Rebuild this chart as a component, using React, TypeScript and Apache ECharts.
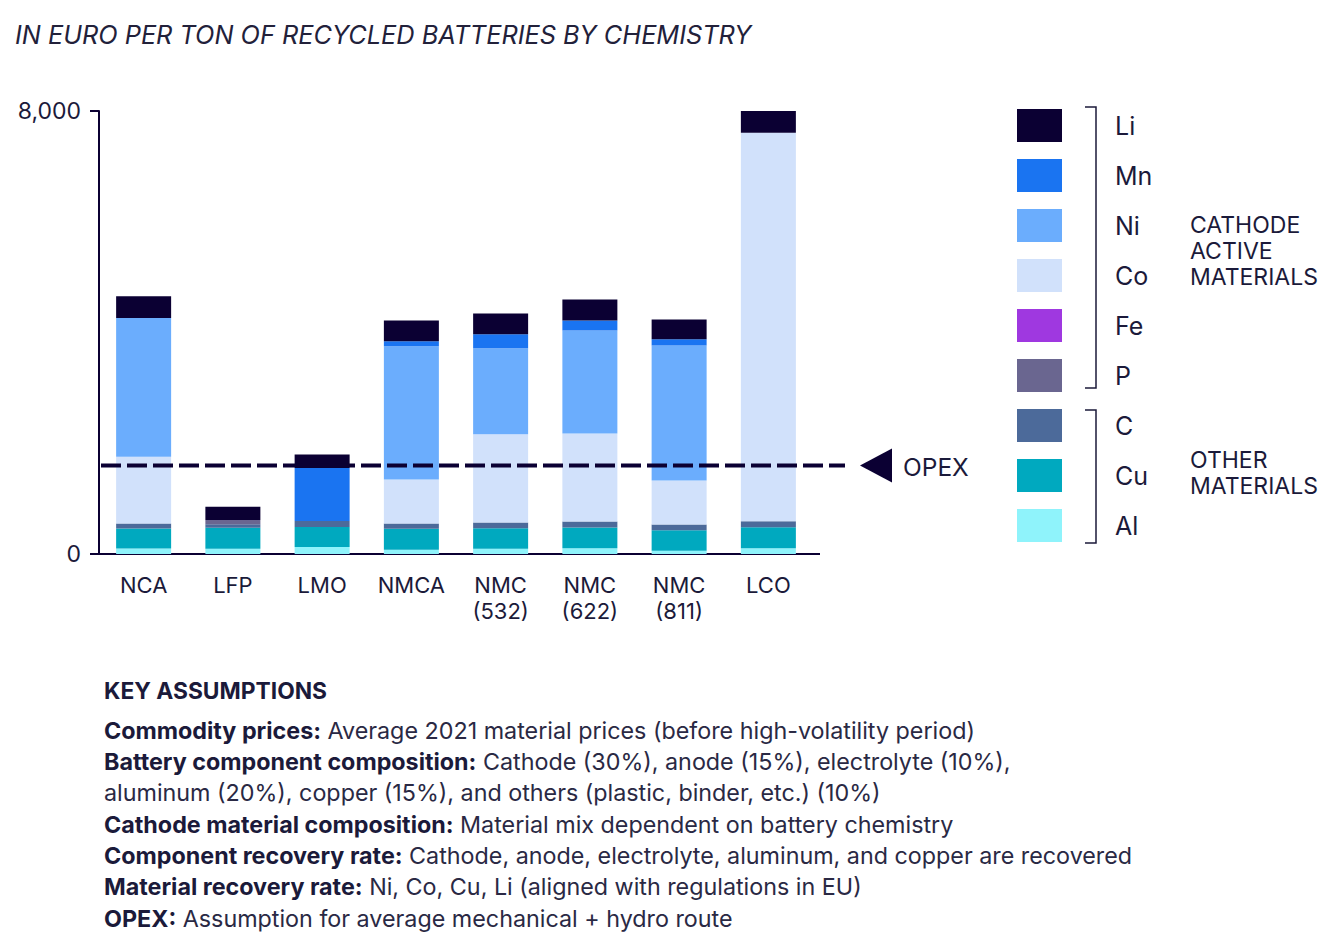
import React, { useEffect, useRef } from "react";
import * as echarts from "echarts";

const categories = ["NCA", "LFP", "LMO", "NMCA", "NMC\n(532)", "NMC\n(622)", "NMC\n(811)", "LCO"];
const alValues = [100, 96, 126, 76, 94, 105, 58, 105];
const cuValues = [361, 379, 361, 379, 372, 374, 372, 379];
const cValues = [90, 60, 108, 96, 103, 108, 103, 108];
const pValues = [0, 80, 0, 0, 0, 0, 0, 0];
const feValues = [0, 0, 0, 0, 0, 0, 0, 0];
const coValues = [1203, 0, 0, 795, 1595, 1589, 795, 7015];
const niValues = [2510, 0, 0, 2407, 1553, 1860, 2438, 0];
const mnValues = [0, 0, 957, 90, 253, 181, 114, 0];
const liValues = [392, 240, 247, 374, 374, 379, 356, 392];
const opexValue = 1600;
const yTicks = [0, 8000];

const legendOrder = ["Li", "Mn", "Ni", "Co", "Fe", "P", "C", "Cu", "Al"];

const FONT = "Inter";
const INK = "#1b1a3a";
const NAVY = "#0b0033";

const keyLines: [string, string][] = [
  ["Commodity prices:", " Average 2021 material prices (before high-volatility period)"],
  ["Battery component composition:", " Cathode (30%), anode (15%), electrolyte (10%),"],
  ["", "aluminum (20%), copper (15%), and others (plastic, binder, etc.) (10%)"],
  ["Cathode material composition:", " Material mix dependent on battery chemistry"],
  ["Component recovery rate:", " Cathode, anode, electrolyte, aluminum, and copper are recovered"],
  ["Material recovery rate:", " Ni, Co, Cu, Li (aligned with regulations in EU)"],
  ["OPEX:", " Assumption for average mechanical + hydro route"],
];

export default function App() {
  const ref = useRef<HTMLDivElement>(null);
  useEffect(() => {
    document.body.style.margin = "0";
    document.body.style.overflow = "hidden";
    const chart = echarts.init(ref.current!, null, { renderer: "svg" });
    const seriesDefs = [
      { name: "Al", data: alValues, color: "#8ff3fb" },
      { name: "Cu", data: cuValues, color: "#00a9bf" },
      { name: "C", data: cValues, color: "#4c6a9a" },
      { name: "P", data: pValues, color: "#6a6690" },
      { name: "Fe", data: feValues, color: "#9f38e0" },
      { name: "Co", data: coValues, color: "#d1e1fb" },
      { name: "Ni", data: niValues, color: "#6badfd" },
      { name: "Mn", data: mnValues, color: "#1a74f1" },
      { name: "Li", data: liValues, color: NAVY },
    ];
    chart.setOption({
      animation: false,
      textStyle: { fontFamily: FONT },
      grid: { left: 99, top: 111, width: 714, height: 443, containLabel: false },
      legend: {
        data: legendOrder,
        orient: "vertical",
        left: 1017,
        top: 109,
        padding: 0,
        itemWidth: 45,
        itemHeight: 33,
        itemGap: 17,
        icon: "rect",
        selectedMode: false,
        textStyle: { fontFamily: FONT, fontSize: 25, color: INK, padding: [0, 0, 0, 48] },
      },
      xAxis: {
        type: "category",
        data: categories,
        axisLine: { lineStyle: { color: NAVY, width: 2 } },
        axisTick: { show: false },
        axisLabel: {
          fontFamily: FONT,
          fontSize: 22,
          color: INK,
          lineHeight: 26,
          margin: 18,
        },
      },
      yAxis: {
        type: "value",
        min: yTicks[0],
        max: yTicks[1],
        interval: yTicks[1] - yTicks[0],
        splitLine: { show: false },
        axisLine: { show: true, lineStyle: { color: NAVY, width: 2 } },
        axisTick: { show: true, length: 9, lineStyle: { color: NAVY, width: 2 } },
        axisLabel: {
          fontFamily: FONT,
          fontSize: 23,
          color: INK,
          margin: 18,
          formatter: (v: number) => v.toLocaleString("en-US"),
        },
      },
      series: seriesDefs.map((s) => ({
        name: s.name,
        type: "bar",
        stack: "total",
        data: s.data,
        barWidth: 55,
        itemStyle: { color: s.color },
        emphasis: { disabled: true },
      })),
    });

    const yOpex = chart.convertToPixel({ yAxisIndex: 0 }, opexValue) as number;
    const graphics: any[] = [
      {
        type: "text",
        x: 15,
        y: 34,
        style: {
          text: "IN EURO PER TON OF RECYCLED BATTERIES BY CHEMISTRY",
          fontFamily: FONT,
          fontStyle: "italic",
          fontSize: 25.3,
          fill: "#22213a",
          verticalAlign: "middle",
        },
      },
      {
        type: "line",
        shape: { x1: 813, y1: 554, x2: 820, y2: 554 },
        style: { stroke: NAVY, lineWidth: 2 },
      },
      {
        type: "line",
        z: 10,
        shape: { x1: 101, y1: yOpex, x2: 845, y2: yOpex },
        style: { stroke: NAVY, lineWidth: 4, lineDash: [20, 6] },
      },
      {
        type: "polygon",
        z: 10,
        shape: { points: [[860, yOpex], [892, yOpex - 17], [892, yOpex + 17]] },
        style: { fill: NAVY },
      },
      {
        type: "text",
        x: 903,
        y: yOpex + 2,
        style: { text: "OPEX", fontFamily: FONT, fontSize: 24.5, fill: INK, verticalAlign: "middle" },
      },
      {
        type: "polyline",
        shape: { points: [[1085, 107], [1096, 107], [1096, 388], [1085, 388]] },
        style: { stroke: INK, lineWidth: 1.5, fill: null },
      },
      {
        type: "polyline",
        shape: { points: [[1085, 410], [1096, 410], [1096, 543], [1085, 543]] },
        style: { stroke: INK, lineWidth: 1.5, fill: null },
      },
      {
        type: "text",
        x: 1190,
        y: 251,
        style: {
          text: "CATHODE\nACTIVE\nMATERIALS",
          fontFamily: FONT,
          fontSize: 23,
          lineHeight: 26,
          fill: INK,
          verticalAlign: "middle",
        },
      },
      {
        type: "text",
        x: 1190,
        y: 473,
        style: {
          text: "OTHER\nMATERIALS",
          fontFamily: FONT,
          fontSize: 23,
          lineHeight: 26,
          fill: INK,
          verticalAlign: "middle",
        },
      },
      {
        type: "text",
        x: 104,
        y: 690,
        style: {
          text: "KEY ASSUMPTIONS",
          fontFamily: FONT,
          fontSize: 22.8,
          fontWeight: 700,
          fill: INK,
          verticalAlign: "middle",
        },
      },
    ];
    const lineYs = [730, 761, 792, 824, 855, 886, 918];
    keyLines.forEach(([b, r], i) => {
      graphics.push({
        type: "text",
        x: 104,
        y: lineYs[i],
        style: {
          text: (b ? "{b|" + b + "}" : "") + "{r|" + r + "}",
          verticalAlign: "middle",
          rich: {
            b: { fontFamily: FONT, fontSize: 23.3, fontWeight: 700, fill: INK, color: INK },
            r: { fontFamily: FONT, fontSize: 23.3, fontWeight: 400, fill: "#2a2944", color: "#2a2944" },
          },
        },
      });
    });
    chart.setOption({ graphic: graphics });
    return () => chart.dispose();
  }, []);
  return <div ref={ref} style={{ position: "absolute", left: 0, top: 0, width: 1334, height: 948 }} />;
}
